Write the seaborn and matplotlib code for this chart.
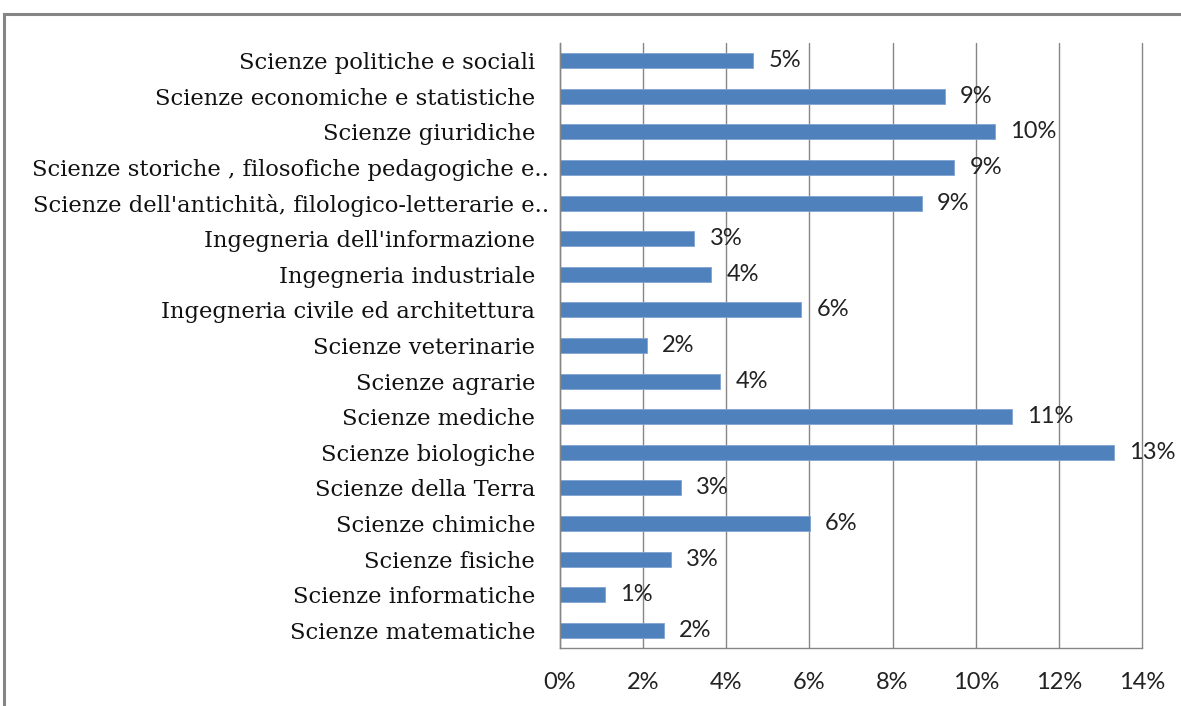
import matplotlib
matplotlib.use("Agg")
import matplotlib.pyplot as plt
import matplotlib.patches as mpatches
import matplotlib.transforms as mtransforms
import numpy as np
import pandas as pd
import seaborn as sns

# Share of students per disciplinary area (fractions of the total)
areas = [
    "Scienze politiche e sociali",
    "Scienze economiche e statistiche",
    "Scienze giuridiche",
    "Scienze storiche , filosofiche pedagogiche e..",
    "Scienze dell'antichità, filologico-letterarie e..",
    "Ingegneria dell'informazione",
    "Ingegneria industriale",
    "Ingegneria civile ed architettura",
    "Scienze veterinarie",
    "Scienze agrarie",
    "Scienze mediche",
    "Scienze biologiche",
    "Scienze della Terra",
    "Scienze chimiche",
    "Scienze fisiche",
    "Scienze informatiche",
    "Scienze matematiche",
]
shares = [
    0.0465, 0.0925, 0.1046, 0.0948, 0.0870, 0.0323, 0.0364, 0.0580, 0.0209,
    0.0386, 0.1087, 0.1332, 0.0290, 0.0601, 0.0267, 0.0108, 0.0249,
]
x_ticks = [0.00, 0.02, 0.04, 0.06, 0.08, 0.10, 0.12, 0.14]

df = pd.DataFrame({"area": areas, "share": shares})

sns.set_theme(style="white")
plt.rcParams["font.family"] = ["DejaVu Serif"]

W, H = 1181, 706
fig = plt.figure(figsize=(W / 100, H / 100), dpi=100)
ax = fig.add_axes([560 / W, 1 - 648 / H, (1142 - 560) / W, (648 - 43) / H])

sns.barplot(data=df, x="share", y="area", orient="h", color="#4F81BD",
            saturation=1, width=0.42, edgecolor="#7FA3D1", linewidth=0.6, ax=ax)

ax.set_xlim(0, 0.14)
ax.set_ylim(len(areas) - 0.5, -0.5)
ax.set_xlabel("")
ax.set_ylabel("")

# vertical gridlines
ax.set_xticks(x_ticks)
ax.set_xticklabels([f"{t:.0%}" for t in x_ticks], family="Lato", fontsize=17,
                   color="#222222")
ax.xaxis.grid(True, color="#868686", linewidth=1.0)
for gl in ax.xaxis.get_gridlines():
    gl.set_clip_on(False)
ax.set_axisbelow(True)
ax.tick_params(axis="x", direction="out", length=7, width=1, color="#868686",
               pad=10)

# category labels, with small ticks between categories
ax.set_yticks(range(len(areas)))
ax.set_yticklabels(areas, fontsize=16.3, color="#111111")
ax.set_yticks(np.arange(-0.5, len(areas) + 0.5, 1), minor=True)
ax.tick_params(axis="y", which="major", length=0, pad=18)
ax.tick_params(axis="y", which="minor", direction="out", length=6, width=1,
               color="#868686")
# truncated names sit a little further right
shift = mtransforms.ScaledTranslation(14 / 100, 0, fig.dpi_scale_trans)
for lab in ax.get_yticklabels():
    if lab.get_text().endswith(".."):
        lab.set_transform(lab.get_transform() + shift)

for side in ["top", "right"]:
    ax.spines[side].set_visible(False)
for side in ["left", "bottom"]:
    ax.spines[side].set_color("#868686")
    ax.spines[side].set_linewidth(1.0)

# value labels at the end of each bar
for i, v in enumerate(shares):
    ax.annotate(f"{v:.0%}", xy=(v, i), xytext=(11, 0), textcoords="offset points",
                ha="left", va="center", family="Lato", fontsize=17,
                color="#222222", annotation_clip=False)

# chart area frame
fig.patches.append(mpatches.Rectangle((4 / W, -0.05), 1.1, 1 - 14 / H + 0.05,
                                      transform=fig.transFigure, fill=False,
                                      edgecolor="#858585", linewidth=2.2))

fig.savefig("out.png", dpi=100)
